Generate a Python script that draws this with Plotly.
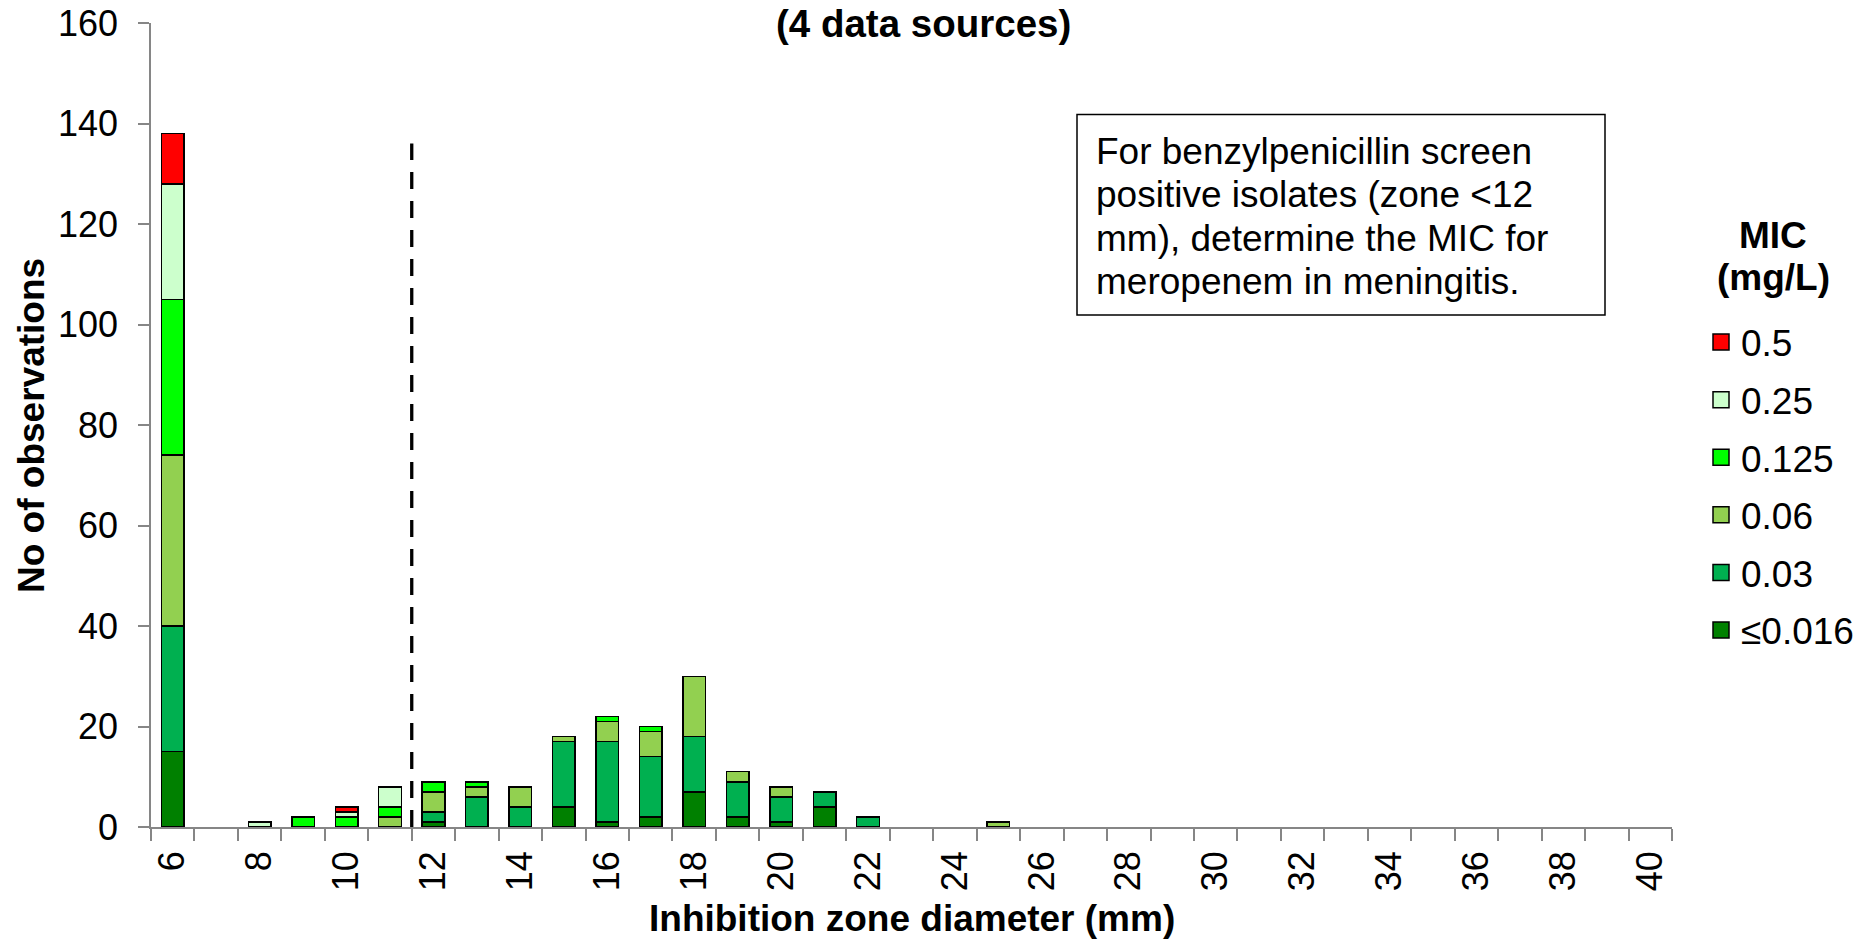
import plotly.graph_objects as go

# ---------------- data ----------------
zones = list(range(6, 41))                      # inhibition zone diameter (mm)
even_ticks = list(range(6, 41, 2))

mic_labels = ["≤0.016", "0.03", "0.06", "0.125", "0.25", "0.5"]
mic_colors = ["#008000", "#00B050", "#92D050", "#00FF00", "#CCFFCC", "#FF0000"]

# counts per zone (zones not listed = 0)
mic_le0016 = {6: 15, 12: 1, 15: 4, 16: 1, 17: 2, 18: 7, 19: 2, 20: 1, 21: 4}
mic_003 = {6: 25, 12: 2, 13: 6, 14: 4, 15: 13, 16: 16, 17: 12, 18: 11, 19: 7, 20: 5, 21: 3, 22: 2}
mic_006 = {6: 34, 11: 2, 12: 4, 13: 2, 14: 4, 15: 1, 16: 4, 17: 5, 18: 12, 19: 2, 20: 2, 25: 1}
mic_0125 = {6: 31, 9: 2, 10: 2, 11: 2, 12: 2, 13: 1, 16: 1, 17: 1}
mic_025 = {6: 23, 8: 1, 10: 1, 11: 4}
mic_05 = {6: 10, 10: 1}

series = [mic_le0016, mic_003, mic_006, mic_0125, mic_025, mic_05]

screen_breakpoint = 12      # zone < 12 mm => screen positive
breakpoint_line_top = 136

title_text = "(4 data sources)"
x_title = "Inhibition zone diameter (mm)"
y_title = "No of observations"
legend_title_lines = ["MIC", "(mg/L)"]
note_lines = ["For benzylpenicillin screen",
              "positive isolates (zone <12",
              "mm), determine the MIC for",
              "meropenem in meningitis."]

# ---------------- layout helpers ----------------
W, H = 1870, 940
PL, PR, PT, PB = 151, 1672, 23, 827      # plot area in pixels


def px_x(X):
    return (X - PL) / (PR - PL)


def px_y(Y):
    return (PB - Y) / (PB - PT)


FONT = "Liberation Sans, Arial, sans-serif"
FS = 37
TICK_FS = 36
GRAY = "#868686"

fig = go.Figure()
for i, (lab, col, d) in enumerate(zip(mic_labels, mic_colors, series)):
    fig.add_trace(go.Bar(
        x=zones,
        y=[d.get(z) for z in zones],
        name=lab,
        legendgroup=lab,
        showlegend=False,
        marker=dict(color=col, line=dict(color="black", width=1.5)),
        width=0.52,
    ))
# legend entries (larger square swatches)
for i, (lab, col) in enumerate(zip(mic_labels, mic_colors)):
    fig.add_trace(go.Scatter(
        x=[None], y=[None], mode="markers", name=lab, legendgroup=lab,
        legendrank=100 - 10 * i, showlegend=True, hoverinfo="skip",
        marker=dict(symbol="square", size=16, color=col,
                    line=dict(color="black", width=1.5)),
    ))

# breakpoint line
fig.add_shape(type="line", xref="x", yref="y",
              x0=screen_breakpoint - 0.5, x1=screen_breakpoint - 0.5,
              y0=0, y1=breakpoint_line_top,
              line=dict(color="black", width=3.3, dash="17px,12px"))

# note box
fig.add_shape(type="rect", xref="paper", yref="paper",
              x0=px_x(1077), x1=px_x(1605), y0=px_y(315), y1=px_y(114.5),
              line=dict(color="black", width=1.5), fillcolor="white", layer="above")
for k, line in enumerate(note_lines):
    fig.add_annotation(xref="paper", yref="paper", x=px_x(1094),
                       y=px_y(151.5 + 43.4 * k), xanchor="left", yanchor="middle",
                       text=line, showarrow=False,
                       font=dict(family=FONT, size=FS, color="black"))

# axis titles
fig.add_annotation(xref="paper", yref="paper", x=px_x(912), y=px_y(918),
                   xanchor="center", yanchor="middle", showarrow=False,
                   text="<b>" + x_title + "</b>",
                   font=dict(family=FONT, size=FS, color="black"))
fig.add_annotation(xref="paper", yref="paper", x=px_x(31), y=px_y(426),
                   xanchor="center", yanchor="middle", showarrow=False,
                   textangle=-90, text="<b>" + y_title + "</b>",
                   font=dict(family=FONT, size=FS, color="black"))

# legend title
for k, line in enumerate(legend_title_lines):
    fig.add_annotation(xref="paper", yref="paper", x=px_x(1773),
                       y=px_y(235 + 42 * k), xanchor="center", yanchor="middle",
                       showarrow=False, text="<b>" + line + "</b>",
                       font=dict(family=FONT, size=FS, color="black"))

# chart title
fig.add_annotation(xref="paper", yref="paper", x=px_x(923), y=px_y(23),
                   xanchor="center", yanchor="middle", showarrow=False,
                   text="<b>" + title_text + "</b>",
                   font=dict(family=FONT, size=FS + 1.5, color="black"))

fig.update_layout(
    width=W, height=H,
    margin=dict(l=PL, r=W - PR, t=PT, b=H - PB, autoexpand=False),
    paper_bgcolor="white", plot_bgcolor="white",
    barmode="stack",
    font=dict(family=FONT, size=FS, color="black"),
    showlegend=True,
    legend=dict(
        traceorder="grouped", tracegroupgap=6.5, itemsizing="trace",
        x=px_x(1701), xanchor="left", y=px_y(311.5), yanchor="top",
        font=dict(family=FONT, size=FS), bgcolor="rgba(0,0,0,0)",
    ),
    xaxis=dict(
        range=[5.5, 40.5], tickmode="array", tickvals=even_ticks,
        ticktext=[str(v) for v in even_ticks], tickangle=-90,
        ticks="", showline=True, linecolor=GRAY, linewidth=1.5,
        showgrid=False, zeroline=False, ticklabelstandoff=8, automargin=False,
        minor=dict(tickmode="array", tickvals=[z - 0.5 for z in zones] + [zones[-1] + 0.5],
                   ticks="outside", ticklen=12, tickcolor=GRAY, tickwidth=1.5,
                   showgrid=False),
        tickfont=dict(family=FONT, size=TICK_FS),
    ),
    yaxis=dict(
        range=[0, 160], dtick=20, tick0=0, ticks="outside", ticklen=11,
        tickcolor=GRAY, tickwidth=1.5, showline=True, linecolor=GRAY,
        linewidth=1.5, showgrid=False, zeroline=False, automargin=False,
        ticklabelstandoff=13,
        tickfont=dict(family=FONT, size=TICK_FS),
    ),
)

fig.write_html("out.html",
               config={"displayModeBar": False},
               post_script="document.body.style.margin='0px';"
                           "document.body.style.overflow='hidden';")
